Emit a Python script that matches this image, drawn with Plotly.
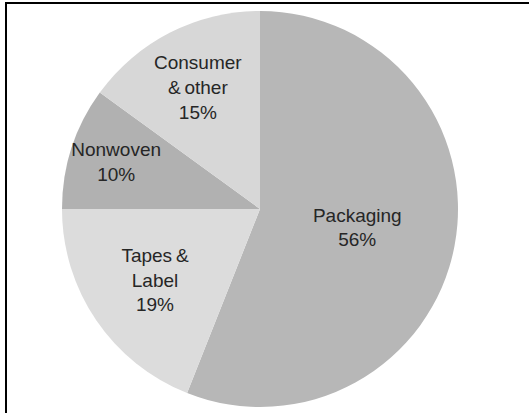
import plotly.graph_objects as go

labels = ["Packaging", "Tapes\u2009&<br>Label", "Nonwoven", "Consumer<br>&\u2009other"]
values = [56, 19, 10, 15]
colors = ["#b7b7b7", "#dcdcdc", "#b1b1b1", "#d7d7d7"]

W, H = 529, 413
cx, cy, r = 260, 209, 198

fig = go.Figure(go.Pie(
    labels=labels,
    values=values,
    sort=False,
    direction="clockwise",
    rotation=0,
    marker=dict(colors=colors, line=dict(width=0)),
    texttemplate="%{label}<br>%{value}%",
    textposition="inside",
    insidetextorientation="horizontal",
    textfont=dict(family="Liberation Sans, Arial, sans-serif", size=19, color="#262626"),
    hoverinfo="label+percent",
    domain=dict(x=[(cx - r) / W, (cx + r) / W], y=[1 - (cy + r) / H, 1 - (cy - r) / H]),
    showlegend=False,
))

fig.update_layout(
    width=W, height=H,
    margin=dict(l=0, r=0, t=0, b=0),
    paper_bgcolor="white",
    plot_bgcolor="white",
    uniformtext=dict(minsize=19, mode="show"),
    shapes=[
        dict(type="line", xref="paper", yref="paper", x0=5 / W, x1=1, y0=1 - 3 / H, y1=1 - 3 / H,
             line=dict(color="black", width=2)),
        dict(type="line", xref="paper", yref="paper", x0=6 / W, x1=6 / W, y0=0, y1=1 - 2 / H,
             line=dict(color="black", width=2)),
    ],
)

fig.write_html(
    "out.html",
    config={"displayModeBar": False},
    post_script="document.body.style.margin='0';document.body.style.overflow='hidden';",
)
